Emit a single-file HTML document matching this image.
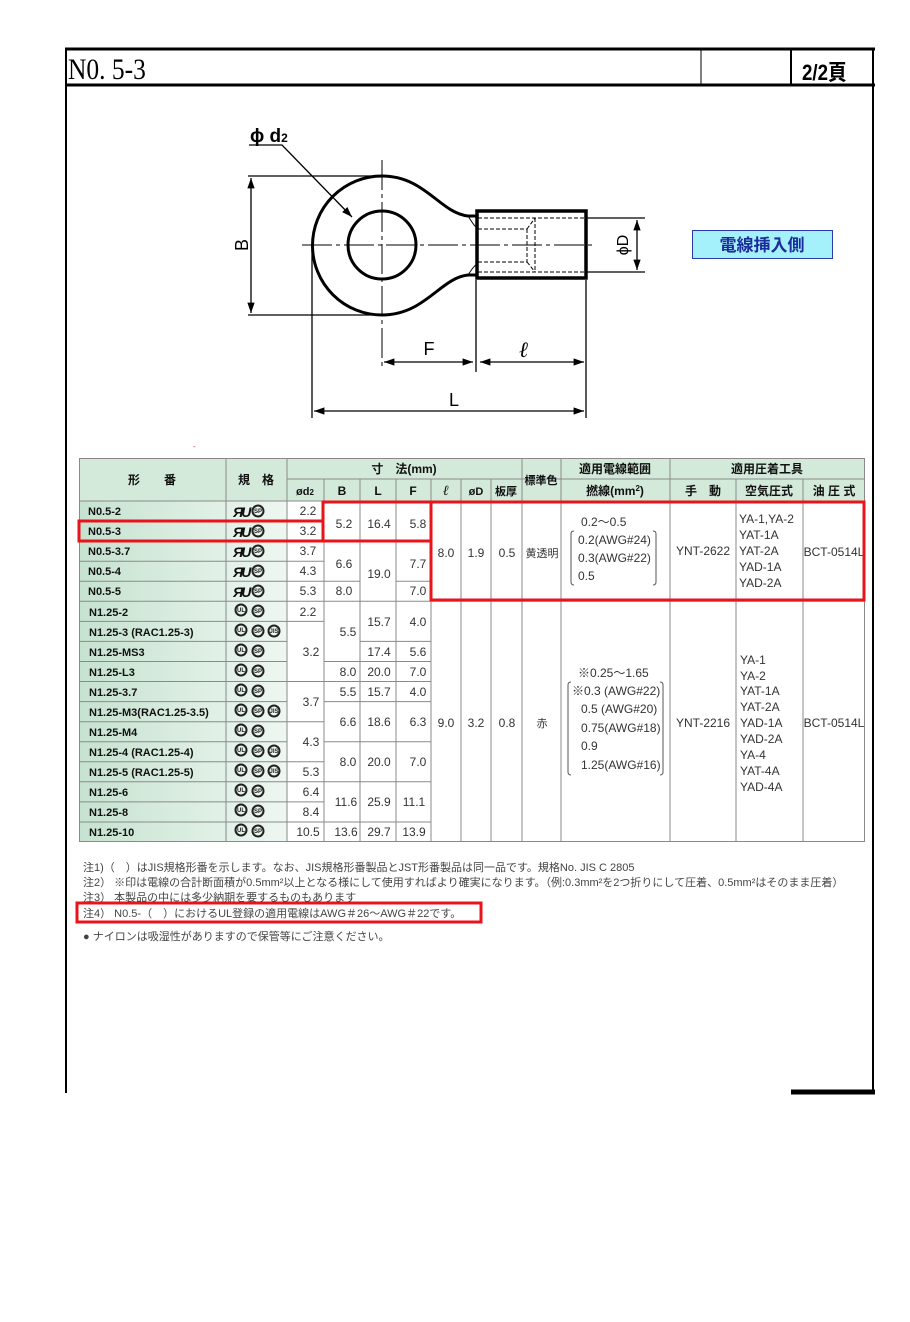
<!DOCTYPE html>
<html><head><meta charset="utf-8"><style>
html,body{margin:0;padding:0;background:#fff;}
svg{display:block;font-family:"Liberation Sans","Noto Sans CJK JP",sans-serif;}
</style></head><body>
<svg width="910" height="1322" viewBox="0 0 910 1322" xmlns="http://www.w3.org/2000/svg">
<defs>
<linearGradient id="g1" x1="0" x2="1" y1="0" y2="0"><stop offset="0" stop-color="#c6e2d0"/><stop offset="1" stop-color="#eef7f1"/></linearGradient>
<marker id="ar" viewBox="0 0 10 10" refX="10" refY="5" markerWidth="8" markerHeight="8" orient="auto-start-reverse"><path d="M0,1.5 L10,5 L0,8.5 z" fill="#000"/></marker>
</defs>
<g stroke="#000" fill="none">
<line x1="66" y1="48" x2="66" y2="1093" stroke-width="2"/>
<line x1="65" y1="49" x2="875" y2="49" stroke-width="3"/>
<line x1="873" y1="48" x2="873" y2="1093" stroke-width="2"/>
<line x1="65" y1="85" x2="875" y2="85" stroke-width="3"/>
<line x1="701" y1="49" x2="701" y2="85" stroke-width="1"/>
<line x1="791" y1="49" x2="791" y2="85" stroke-width="2"/>
<line x1="791" y1="1092" x2="875" y2="1092" stroke-width="5"/>
</g>
<text x="0" y="0" font-family="Liberation Serif,serif" font-size="30" transform="translate(68,79) scale(0.85,1)">N0. 5-3</text>
<text x="0" y="0" font-family="Liberation Sans,'Noto Sans CJK JP',sans-serif" font-size="22" font-weight="bold" transform="translate(802,80) scale(0.85,1)">2/2頁</text>

<g stroke="#000" fill="none">
<path d="M477,216 L468,216 C440,213 425,176 382,176 A69.5,69.5 0 0 0 382,315 C425,315 440,278 468,275 L477,275" stroke-width="3"/>
<circle cx="382" cy="245" r="34" stroke-width="3"/>
<rect x="477" y="211" width="109" height="67" stroke-width="3.5"/>
<path d="M468,216 C472,222 474,226 477,228 M468,275 C472,269 474,266 477,264" stroke-width="1"/>
<g stroke-width="1" stroke-dasharray="4,2">
<line x1="478" y1="218" x2="585" y2="218"/><line x1="478" y1="272" x2="585" y2="272"/>
<line x1="478" y1="229" x2="527" y2="229"/><line x1="478" y1="262" x2="527" y2="262"/>
<line x1="535" y1="218" x2="535" y2="272"/><line x1="527" y1="229" x2="527" y2="262"/>
<line x1="527" y1="229" x2="535" y2="218"/><line x1="527" y1="262" x2="535" y2="272"/>
</g>
<g stroke-width="1.3">
<line x1="302" y1="245" x2="592" y2="245" stroke-dasharray="30,4,4,4" stroke-width="1"/>
<line x1="382" y1="160" x2="382" y2="370" stroke-dasharray="30,4,4,4" stroke-width="1"/>
<line x1="248" y1="176" x2="382" y2="176"/><line x1="248" y1="315" x2="382" y2="315"/>
<line x1="251" y1="178" x2="251" y2="313" marker-start="url(#ar)" marker-end="url(#ar)"/>
<line x1="312" y1="250" x2="312" y2="418"/>
<line x1="476" y1="280" x2="476" y2="372"/>
<line x1="586" y1="280" x2="586" y2="418"/>
<line x1="384" y1="362" x2="473" y2="362" marker-start="url(#ar)" marker-end="url(#ar)"/>
<line x1="480" y1="362" x2="584" y2="362" marker-start="url(#ar)" marker-end="url(#ar)"/>
<line x1="314" y1="411" x2="584" y2="411" marker-start="url(#ar)" marker-end="url(#ar)"/>
<line x1="586" y1="218" x2="645" y2="218"/><line x1="586" y1="272" x2="645" y2="272"/>
<line x1="637" y1="220" x2="637" y2="270" marker-start="url(#ar)" marker-end="url(#ar)"/>
<polyline points="249,145 282,145 352,217" marker-end="url(#ar)"/>
</g>
</g>
<text x="250" y="142" font-size="19" font-weight="bold">ϕ d<tspan font-size="12">2</tspan></text>
<text x="243" y="245" font-size="18" transform="rotate(-90 243 245)" text-anchor="middle" dominant-baseline="middle">B</text>
<text x="429" y="355" font-size="18" text-anchor="middle">F</text>
<text x="524" y="357" font-size="22" font-style="italic" font-weight="bold" font-family="Liberation Serif,serif" text-anchor="middle">ℓ</text>
<text x="454" y="406" font-size="18" text-anchor="middle">L</text>
<text x="624" y="245" font-size="16" transform="rotate(-90 624 245)" text-anchor="middle" dominant-baseline="middle">ϕD</text>
<rect x="692.5" y="230.5" width="140" height="28" fill="#a4f0fb" stroke="#2a3ab0" stroke-width="1"/>
<text x="762" y="251" font-size="17" font-weight="bold" fill="#1c2c9c" text-anchor="middle">電線挿入側</text>
<text x="193" y="449" font-size="8" fill="#c33">-</text>

<rect x="79" y="458" width="786" height="43" fill="#d3e9da"/>
<rect x="79" y="501" width="208" height="341" fill="url(#g1)"/>
<g stroke="#8a8a8a" stroke-width="1" fill="none">
<rect x="79.5" y="458.5" width="785" height="383"/>
<line x1="287" y1="479" x2="865" y2="479"/>
<line x1="79" y1="501" x2="865" y2="501"/>
<line x1="226" y1="458" x2="226" y2="842"/><line x1="287" y1="458" x2="287" y2="842"/>
<line x1="522" y1="458" x2="522" y2="842"/><line x1="561" y1="458" x2="561" y2="842"/>
<line x1="670" y1="458" x2="670" y2="842"/>
<line x1="324" y1="479" x2="324" y2="842"/><line x1="360" y1="479" x2="360" y2="842"/>
<line x1="396" y1="479" x2="396" y2="842"/><line x1="431" y1="479" x2="431" y2="842"/>
<line x1="461" y1="479" x2="461" y2="842"/><line x1="491" y1="479" x2="491" y2="842"/>
<line x1="736" y1="479" x2="736" y2="842"/><line x1="803" y1="479" x2="803" y2="842"/>
<path d="M79,521.1H287M79,541.1H287M79,561.2H287M79,581.2H287M79,601.3H287M79,621.4H287M79,641.4H287M79,661.5H287M79,681.5H287M79,701.6H287M79,721.7H287M79,741.7H287M79,761.8H287M79,781.8H287M79,801.9H287M79,822H287"/>
<path d="M287,521.1H324M287,541.1H324M287,561.2H324M287,581.2H324M287,601.3H324M287,621.4H324M287,681.5H324M287,721.7H324M287,761.8H324M287,781.8H324M287,801.9H324M287,822H324"/>
<path d="M324,541.1H360M324,581.2H360M324,601.3H360M324,661.5H360M324,681.5H360M324,701.6H360M324,741.7H360M324,781.8H360M324,822H360"/>
<path d="M360,541.1H396M360,601.3H396M360,641.4H396M360,661.5H396M360,681.5H396M360,701.6H396M360,741.7H396M360,781.8H396M360,822H396"/>
<path d="M396,541.1H431M396,581.2H431M396,601.3H431M396,641.4H431M396,661.5H431M396,681.5H431M396,701.6H431M396,741.7H431M396,781.8H431M396,822H431"/>
<path d="M431,601.3H865"/>
</g>
<g font-size="12" font-weight="bold" fill="#111" text-anchor="middle">
<text x="152" y="484">形　　番</text><text x="256" y="484">規　格</text>
<text x="404" y="473">寸　法(mm)</text><text x="541" y="484" font-size="11">標準色</text>
<text x="615" y="473">適用電線範囲</text><text x="767" y="473">適用圧着工具</text>
<text x="305" y="495" font-size="11">ød<tspan font-size="8">2</tspan></text><text x="342" y="495">B</text><text x="378" y="495">L</text><text x="413" y="495">F</text>
<text x="446" y="495" font-style="italic" font-family="Liberation Serif,serif" font-size="14">ℓ</text><text x="476" y="495" font-size="11">øD</text><text x="506" y="495" font-size="11">板厚</text>
<text x="615" y="495">撚線(mm<tspan font-size="8" dy="-4">2</tspan><tspan dy="4">)</tspan></text><text x="703" y="495">手　動</text><text x="769" y="495">空気圧式</text><text x="834" y="495">油 圧 式</text>
</g>
<g font-size="11" font-weight="bold" fill="#111">
<text x="88" y="515">N0.5-2</text><text x="88" y="535">N0.5-3</text><text x="88" y="555">N0.5-3.7</text><text x="88" y="575">N0.5-4</text><text x="88" y="595">N0.5-5</text>
<text x="89" y="616">N1.25-2</text><text x="89" y="636">N1.25-3 (RAC1.25-3)</text><text x="89" y="656">N1.25-MS3</text><text x="89" y="676">N1.25-L3</text><text x="89" y="696">N1.25-3.7</text>
<text x="89" y="716">N1.25-M3(RAC1.25-3.5)</text><text x="89" y="736">N1.25-M4</text><text x="89" y="756">N1.25-4 (RAC1.25-4)</text><text x="89" y="776">N1.25-5 (RAC1.25-5)</text>
<text x="89" y="796">N1.25-6</text><text x="89" y="816">N1.25-8</text><text x="89" y="836">N1.25-10</text>
</g>
<g font-size="14" font-weight="bold" fill="#111" font-style="italic" letter-spacing="-2">
<text x="233" y="517">ЯU</text><text x="233" y="537">ЯU</text><text x="233" y="557">ЯU</text><text x="233" y="577">ЯU</text><text x="233" y="597">ЯU</text>
</g>
<g fill="none" stroke="#222" stroke-width="2">
<circle cx="258" cy="511" r="5.5"/><circle cx="258" cy="531" r="5.5"/><circle cx="258" cy="551" r="5.5"/><circle cx="258" cy="571" r="5.5"/><circle cx="258" cy="591" r="5.5"/>
<circle cx="241" cy="610" r="5.5"/><circle cx="258" cy="611" r="5.5"/>
<circle cx="241" cy="630" r="5.5"/><circle cx="258" cy="631" r="5.5"/><circle cx="274" cy="631" r="5.5"/>
<circle cx="241" cy="650" r="5.5"/><circle cx="258" cy="651" r="5.5"/>
<circle cx="241" cy="670" r="5.5"/><circle cx="258" cy="671" r="5.5"/>
<circle cx="241" cy="690" r="5.5"/><circle cx="258" cy="691" r="5.5"/>
<circle cx="241" cy="710" r="5.5"/><circle cx="258" cy="711" r="5.5"/><circle cx="274" cy="711" r="5.5"/>
<circle cx="241" cy="730" r="5.5"/><circle cx="258" cy="731" r="5.5"/>
<circle cx="241" cy="750" r="5.5"/><circle cx="258" cy="751" r="5.5"/><circle cx="274" cy="751" r="5.5"/>
<circle cx="241" cy="770" r="5.5"/><circle cx="258" cy="771" r="5.5"/><circle cx="274" cy="771" r="5.5"/>
<circle cx="241" cy="790" r="5.5"/><circle cx="258" cy="791" r="5.5"/>
<circle cx="241" cy="810" r="5.5"/><circle cx="258" cy="811" r="5.5"/>
<circle cx="241" cy="830" r="5.5"/><circle cx="258" cy="831" r="5.5"/>
</g>
<g font-size="6" font-weight="bold" fill="#222" text-anchor="middle">
<text x="258" y="513">SP</text><text x="258" y="533">SP</text><text x="258" y="553">SP</text><text x="258" y="573">SP</text><text x="258" y="593">SP</text>
<text x="241" y="612">UL</text><text x="258" y="613">SP</text><text x="241" y="632">UL</text><text x="258" y="633">SP</text><text x="274" y="633">JIS</text>
<text x="241" y="652">UL</text><text x="258" y="653">SP</text><text x="241" y="672">UL</text><text x="258" y="673">SP</text>
<text x="241" y="692">UL</text><text x="258" y="693">SP</text><text x="241" y="712">UL</text><text x="258" y="713">SP</text><text x="274" y="713">JIS</text>
<text x="241" y="732">UL</text><text x="258" y="733">SP</text><text x="241" y="752">UL</text><text x="258" y="753">SP</text><text x="274" y="753">JIS</text>
<text x="241" y="772">UL</text><text x="258" y="773">SP</text><text x="274" y="773">JIS</text>
<text x="241" y="792">UL</text><text x="258" y="793">SP</text><text x="241" y="812">UL</text><text x="258" y="813">SP</text><text x="241" y="832">UL</text><text x="258" y="833">SP</text>
</g>
<g font-size="12" fill="#333" text-anchor="middle">
<text x="308" y="515">2.2</text><text x="308" y="535">3.2</text><text x="308" y="555">3.7</text><text x="308" y="575">4.3</text><text x="308" y="595">5.3</text>
<text x="308" y="616">2.2</text><text x="311" y="656">3.2</text><text x="311" y="706">3.7</text><text x="311" y="746">4.3</text><text x="311" y="776">5.3</text>
<text x="311" y="796">6.4</text><text x="311" y="816">8.4</text><text x="308" y="836">10.5</text>
<text x="344" y="528">5.2</text><text x="344" y="568">6.6</text><text x="344" y="595">8.0</text><text x="348" y="636">5.5</text><text x="348" y="676">8.0</text>
<text x="348" y="696">5.5</text><text x="348" y="726">6.6</text><text x="348" y="766">8.0</text><text x="346" y="806">11.6</text><text x="346" y="836">13.6</text>
<text x="379" y="528">16.4</text><text x="379" y="578">19.0</text><text x="379" y="626">15.7</text><text x="379" y="656">17.4</text><text x="379" y="676">20.0</text>
<text x="379" y="696">15.7</text><text x="379" y="726">18.6</text><text x="379" y="766">20.0</text><text x="379" y="806">25.9</text><text x="379" y="836">29.7</text>
<text x="418" y="528">5.8</text><text x="418" y="568">7.7</text><text x="418" y="595">7.0</text><text x="418" y="626">4.0</text><text x="418" y="656">5.6</text>
<text x="418" y="676">7.0</text><text x="418" y="696">4.0</text><text x="418" y="726">6.3</text><text x="418" y="766">7.0</text><text x="414" y="806">11.1</text><text x="414" y="836">13.9</text>
<text x="446" y="557">8.0</text><text x="476" y="557">1.9</text><text x="507" y="557">0.5</text><text x="542" y="557" font-size="11">黄透明</text>
<text x="446" y="727">9.0</text><text x="476" y="727">3.2</text><text x="507" y="727">0.8</text><text x="542" y="727" font-size="11">赤</text>
<text x="703" y="555">YNT-2622</text><text x="703" y="727">YNT-2216</text>
<text x="834" y="556">BCT-0514L</text><text x="834" y="727">BCT-0514L</text>
</g>
<g font-size="12" fill="#333">
<text x="581" y="526">0.2～0.5</text><text x="578" y="544">0.2(AWG#24)</text><text x="578" y="562">0.3(AWG#22)</text><text x="578" y="580">0.5</text>
<text x="578" y="677">※0.25～1.65</text><text x="572" y="695">※0.3 (AWG#22)</text><text x="581" y="713">0.5 (AWG#20)</text><text x="581" y="732">0.75(AWG#18)</text><text x="581" y="750">0.9</text><text x="581" y="769">1.25(AWG#16)</text>
<text x="739" y="523">YA-1,YA-2</text><text x="739" y="539">YAT-1A</text><text x="739" y="555">YAT-2A</text><text x="739" y="571">YAD-1A</text><text x="739" y="587">YAD-2A</text>
<text x="740" y="664">YA-1</text><text x="740" y="680">YA-2</text><text x="740" y="695">YAT-1A</text><text x="740" y="711">YAT-2A</text><text x="740" y="727">YAD-1A</text><text x="740" y="743">YAD-2A</text><text x="740" y="759">YA-4</text><text x="740" y="775">YAT-4A</text><text x="740" y="791">YAD-4A</text>
</g>
<g fill="none" stroke="#555" stroke-width="1">
<path d="M574,531 Q571,531 571,534 V582 Q571,585 574,585 M653,531 Q656,531 656,534 V582 Q656,585 653,585"/>
<path d="M571,682 Q568,682 568,685 V772 Q568,775 571,775 M660,682 Q663,682 663,685 V772 Q663,775 660,775"/>
</g>
<g fill="none" stroke="#e8141a" stroke-width="3">
<rect x="79" y="521" width="244" height="20"/>
<rect x="323" y="502" width="108" height="39"/>
<rect x="431" y="502" width="433" height="98"/>
<rect x="77" y="903" width="404" height="19"/>
</g>
<g font-size="11" fill="#444">
<text x="83" y="871">注1)（　）はJIS規格形番を示します。なお、JIS規格形番製品とJST形番製品は同一品です。規格No. JIS C 2805</text>
<text x="83" y="886">注2） ※印は電線の合計断面積が0.5mm²以上となる様にして使用すればより確実になります。（例:0.3mm²を2つ折りにして圧着、0.5mm²はそのまま圧着）</text>
<text x="83" y="901">注3） 本製品の中には多少納期を要するものもあります</text>
<text x="83" y="917">注4） N0.5-（　）におけるUL登録の適用電線はAWG＃26～AWG＃22です。</text>
<text x="83" y="940">● ナイロンは吸湿性がありますので保管等にご注意ください。</text>
</g>
</svg>
</body></html>
